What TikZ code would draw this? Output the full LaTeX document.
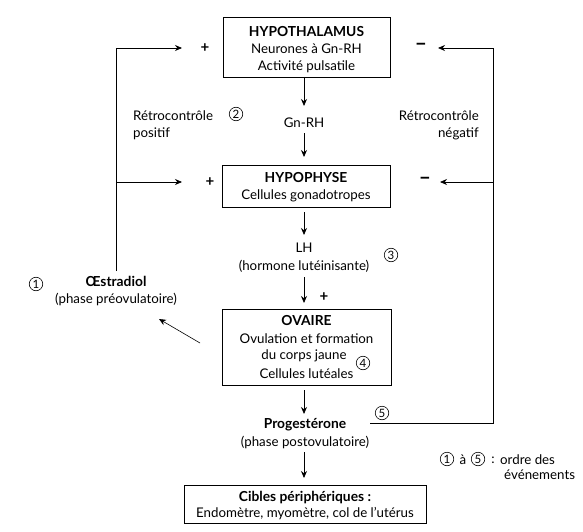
\documentclass[tikz,border=0pt]{standalone}
\usepackage{fontspec}
\setmainfont{Lato}
\usetikzlibrary{arrows.meta}
\begin{document}
\begin{tikzpicture}[x=1pt,y=-1pt,
  font=\fontsize{13.3}{15}\selectfont,
  box/.style={draw, line width=0.8pt, inner sep=0pt},
  arr/.style={-{Stealth[length=7pt,width=6pt]}, line width=0.8pt},
  ln/.style={line width=0.8pt},
  txt/.style={inner sep=0pt, align=center},
  ttl/.style={inner sep=0pt, font=\bfseries\fontsize{13.8}{15}\selectfont},
  num/.style={draw, circle, line width=0.6pt, inner sep=0pt, minimum size=13.5pt, font=\fontsize{11.5}{11.5}\selectfont},
  sgn/.style={inner sep=0pt, font=\bfseries\fontsize{15}{15}\selectfont},
  msgn/.style={inner sep=0pt, font=\bfseries\fontsize{21}{21}\selectfont}
]
\useasboundingbox (0,0) rectangle (583,532);
% boxes
\node[box, minimum width=167pt, minimum height=60pt] (hypo) at (306.5,47) {};
\node[box, minimum width=168pt, minimum height=42pt] (phys) at (306,186) {};
\node[box, minimum width=169pt, minimum height=76pt] (ov) at (306.5,347) {};
\node[box, minimum width=242pt, minimum height=38pt] (cib) at (305,504) {};
% box texts
\node[ttl] (hypoA) at (306.5,32) {HYPOTHALAMUS};
\node[txt] (hypoB) at (306.5,49) {Neurones à Gn-RH};
\node[txt] (hypoC) at (306.5,67) {Activité pulsatile};
\node[ttl] (physA) at (306,178) {HYPOPHYSE};
\node[txt] (physB) at (306,196) {Cellules gonadotropes};
\node[ttl] (ovA) at (306.5,321) {OVAIRE};
\node[txt] (ovB) at (306.5,339) {Ovulation et formation};
\node[txt] (ovC) at (304,356) {du corps jaune};
\node[txt] (ovD) at (306.5,374) {Cellules lutéales};
\node[ttl] (cibA) at (305,498) {Cibles périphériques :};
\node[txt] (cibB) at (305,514) {Endomètre, myomètre, col de l’utérus};
% hormone labels
\node[txt] (gnrh) at (304,123) {Gn-RH};
\node[txt] (lh) at (304,248) {LH};
\node[txt] (lhB) at (304,266) {(hormone lutéinisante)};
\node[ttl] (prog) at (305,425) {Progestérone};
\node[txt] (progB) at (305,442) {(phase postovulatoire)};
\node[ttl] (oes) at (116,281) {Œstradiol};
\node[txt] (oesB) at (116,299) {(phase préovulatoire)};
\node[txt, anchor=west] (rpA) at (133,116) {Rétrocontrôle};
\node[txt, anchor=west] (rpB) at (133,134) {positif};
\node[txt, anchor=east] (rnA) at (479,116) {Rétrocontrôle};
\node[txt, anchor=east] (rnB) at (479,134) {négatif};
% numbers
\node[num] (n1) at (36,284) {1};
\node[num] (n2) at (236,114) {2};
\node[num] (n3) at (391,255) {3};
\node[num] (n4) at (363,363) {4};
\node[num] (n5) at (382,413) {5};
% legend
\node[num] (l1) at (447,459) {1};
\node[txt] (la) at (463,460) {à};
\node[num] (l5) at (478,459) {5};
\node[txt] (lc) at (493,460) {:};
\node[txt, anchor=west] (lo) at (500,460) {ordre des};
\node[txt, anchor=west] (le) at (504,475) {événements};
% signs
\node[sgn] (p1) at (205,48) {+};
\node[sgn] (p2) at (210,182) {+};
\node[sgn] (p3) at (324,297) {+};
\node[msgn] (m1) at (421,47) {–};
\node[msgn] (m2) at (425,181) {–};
% arrow coordinates
\coordinate (a1s) at (304,77);  \coordinate (a1e) at (304,106);
\coordinate (a2s) at (304,133); \coordinate (a2e) at (304,157);
\coordinate (a3s) at (304,212); \coordinate (a3e) at (304,235);
\coordinate (a4s) at (304,277); \coordinate (a4e) at (304,303);
\coordinate (a5s) at (304,390); \coordinate (a5e) at (304,414);
\coordinate (a6s) at (304,452); \coordinate (a6e) at (304,478);
\draw[arr] (a1s) -- (a1e);
\draw[arr] (a2s) -- (a2e);
\draw[arr] (a3s) -- (a3e);
\draw[arr] (a4s) -- (a4e);
\draw[arr] (a5s) -- (a5e);
\draw[arr] (a6s) -- (a6e);
% left feedback
\coordinate (lt) at (116,48); \coordinate (lm) at (116,182); \coordinate (lb) at (116,271);
\coordinate (ltT) at (182,48); \coordinate (lmT) at (182,182);
\draw[ln] (lb) -- (lt);
\draw[arr] (lt) -- (ltT);
\draw[arr] (lm) -- (lmT);
% right feedback
\coordinate (ps) at (370,423); \coordinate (rb) at (493,423);
\coordinate (rt) at (493,48); \coordinate (rm) at (493,182);
\coordinate (rtT) at (438,48); \coordinate (rmT) at (440,182);
\draw[ln] (ps) -- (rb) -- (rt);
\draw[arr] (rt) -- (rtT);
\draw[arr] (rm) -- (rmT);
% ovary to oestradiol
\coordinate (oa) at (200,343); \coordinate (ob) at (159,319);
\draw[arr, line width=0.6pt] (oa) -- (ob);
\end{tikzpicture}
\end{document}
